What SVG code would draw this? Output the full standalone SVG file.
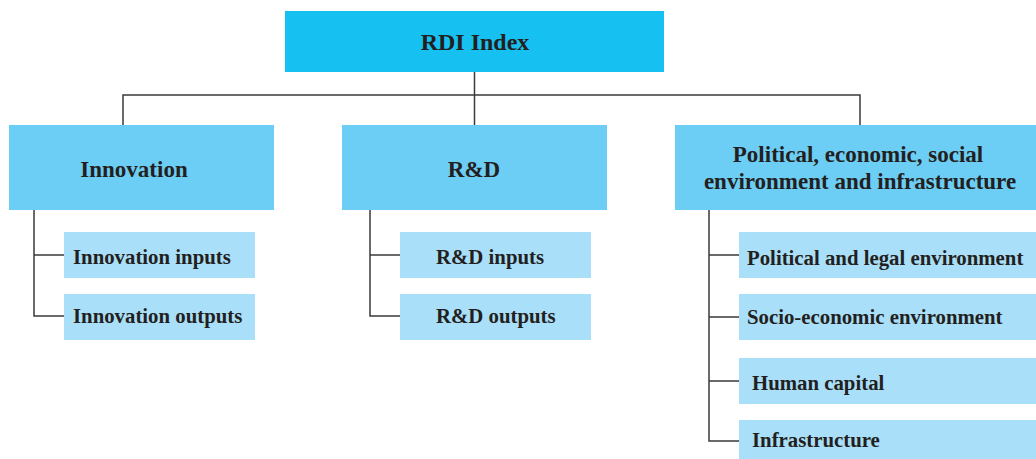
<svg xmlns="http://www.w3.org/2000/svg" width="1036" height="459" viewBox="0 0 1036 459">
<style>
.root{fill:#16C1F1}
.l2{fill:#6DCEF5}
.l3{fill:#A9DFF9}
text{font-family:"Liberation Serif","Times New Roman",serif;font-weight:bold;fill:#231F20}
.t1{font-size:24px;text-anchor:middle}
.t2{font-size:23px;text-anchor:middle}
.t3{font-size:20.8px}
.conn{fill:none;stroke:#3a3a3a;stroke-width:1.5}
</style>
<rect width="1036" height="459" fill="#ffffff"/>
<g id="connectors">
<path class="conn" d="M474.5 72 V125"/>
<path class="conn" d="M123 125 V95 H860 V125"/>
<path class="conn" d="M34 210 V316 H64 M34 255 H64"/>
<path class="conn" d="M370 210 V316 H400 M370 255 H400"/>
<path class="conn" d="M709 210 V441 H739 M709 255 H739 M709 317 H739 M709 381 H739"/>
</g>
<g id="rdi-index"><rect class="root" x="285" y="11" width="379" height="61"/><text class="t1" x="475" y="50">RDI Index</text></g>
<g id="innovation"><rect class="l2" x="9" y="125" width="265" height="85"/><text class="t2" x="134" y="177">Innovation</text></g>
<g id="rd"><rect class="l2" x="342" y="125" width="265" height="85"/><text class="t2" x="474" y="177">R&amp;D</text></g>
<g id="political"><rect class="l2" x="675" y="125" width="361" height="85"/><text class="t2" x="858" y="162">Political, economic, social</text><text class="t2" x="860" y="189">environment and infrastructure</text></g>
<g id="innovation-inputs"><rect class="l3" x="64" y="232" width="191" height="46"/><text class="t3" x="73" y="264">Innovation inputs</text></g>
<g id="innovation-outputs"><rect class="l3" x="64" y="294" width="191" height="46"/><text class="t3" x="73" y="323">Innovation outputs</text></g>
<g id="rd-inputs"><rect class="l3" x="400" y="232" width="191" height="46"/><text class="t3" x="436" y="264">R&amp;D inputs</text></g>
<g id="rd-outputs"><rect class="l3" x="400" y="294" width="191" height="46"/><text class="t3" x="436" y="323">R&amp;D outputs</text></g>
<g id="political-legal"><rect class="l3" x="739" y="232" width="297" height="46"/><text class="t3" x="747" y="265">Political and legal environment</text></g>
<g id="socio-economic"><rect class="l3" x="739" y="294" width="297" height="46"/><text class="t3" x="747" y="324">Socio-economic environment</text></g>
<g id="human-capital"><rect class="l3" x="739" y="358" width="297" height="46"/><text class="t3" x="752" y="390">Human capital</text></g>
<g id="infrastructure"><rect class="l3" x="739" y="420" width="297" height="39"/><text class="t3" x="752" y="447">Infrastructure</text></g>
</svg>
